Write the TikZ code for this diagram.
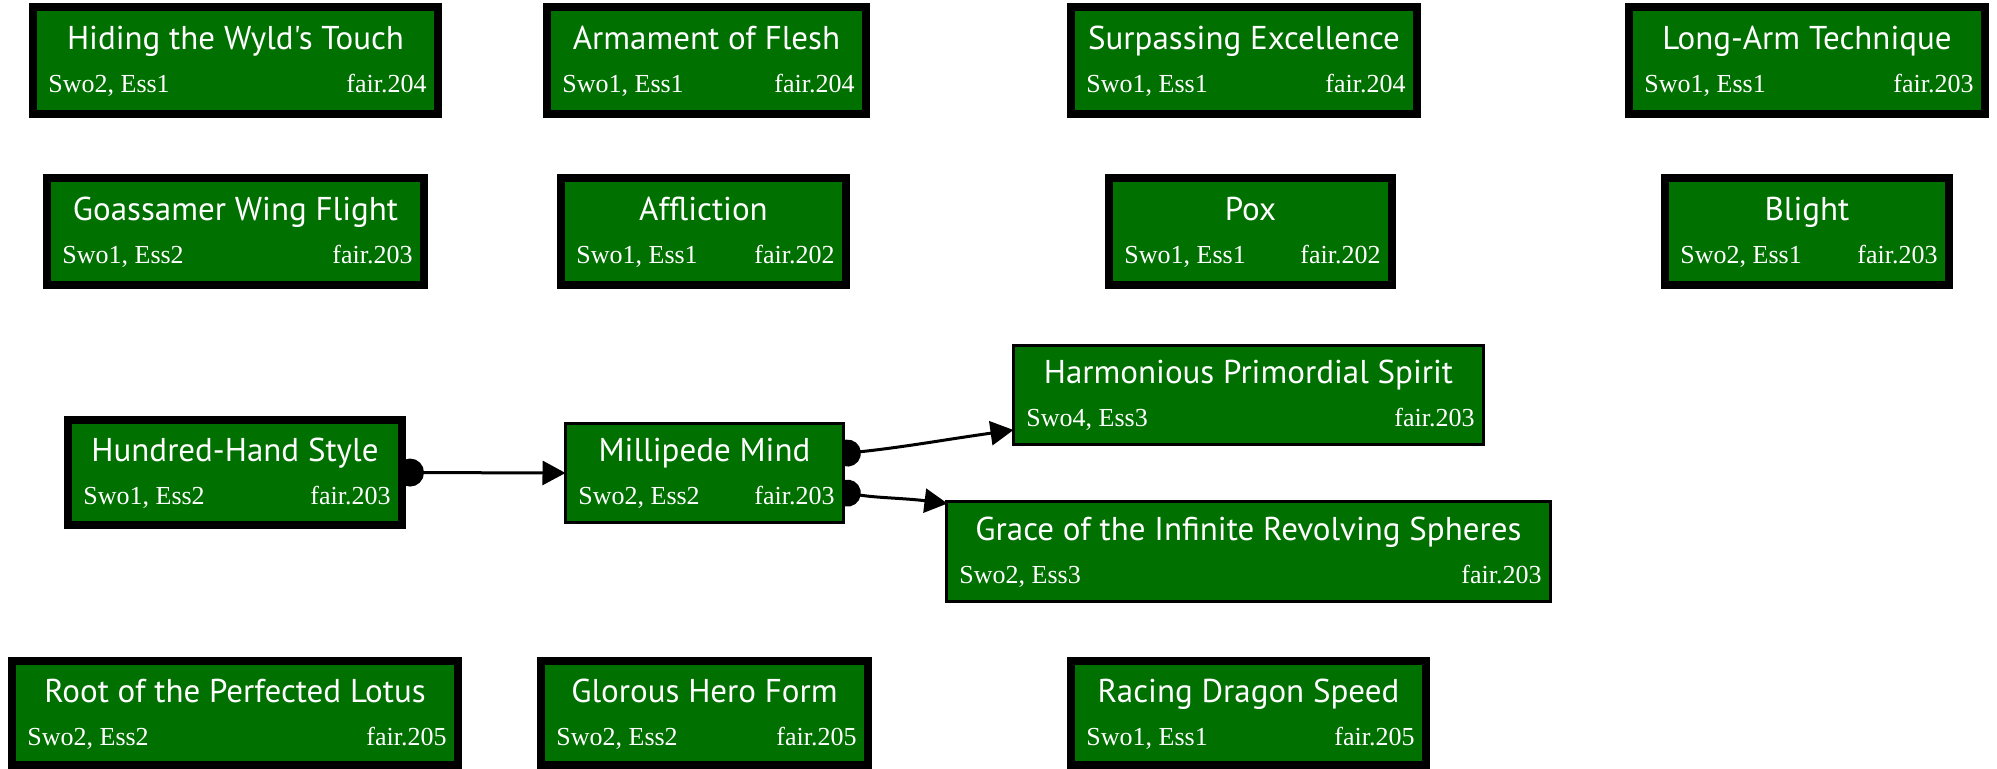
\documentclass[tikz,border=0pt]{standalone}
\usepackage{fontspec}
\setmainfont{Liberation Serif}
\newfontfamily\titlefont{PT Sans}
\usetikzlibrary{arrows.meta,backgrounds}

\definecolor{charmgreen}{RGB}{0,112,0}

\tikzset{
  charmbox/.style={draw=black, fill=charmgreen, inner sep=0pt, outer sep=0pt},
  charmtitle/.style={inner sep=0pt, text=white, font=\titlefont\fontsize{16.5pt}{18pt}\selectfont},
  charmsub/.style={inner sep=0pt, text=white, font=\fontsize{13pt}{15pt}\selectfont},
  edge/.style={draw=black, line width=1.5pt}
}

% \charm{name}{border px}{x1}{y1}{x2}{y2}{title}{left}{right}
% x1..y2 give the outer edges of the box, in pixels (1px = 0.5pt, y downward)
\newcommand\charm[9]{%
  \node[charmbox, line width={#2*0.5pt},
        minimum width={(#5-#3-#2)*0.5pt}, minimum height={(#6-#4-#2)*0.5pt}]
    (#1) at ({(#3+#5)/2},{(#4+#6)/2}) {};
  \node[charmtitle, anchor=base] (#1-t) at ({(#3+#5)/2},{(#4+#6)/2-11}) {#7};
  \node[charmsub, anchor=base west] (#1-l) at ({#3+#2+11},{(#4+#6)/2+32}) {#8};
  \node[charmsub, anchor=base east] (#1-r) at ({#5-#2-7},{(#4+#6)/2+32}) {#9};
}

\begin{document}
\begin{tikzpicture}[x=0.5pt, y=-0.5pt]
  \useasboundingbox (0,0) rectangle (1997,769);

  % top row
  \charm{hid}{8}{29}{3}{442}{118}{Hiding the Wyld's Touch}{Swo2, Ess1}{fair.204}
  \charm{arm}{8}{543}{3}{870}{118}{Armament of Flesh}{Swo1, Ess1}{fair.204}
  \charm{sur}{8}{1067}{3}{1421}{118}{Surpassing Excellence}{Swo1, Ess1}{fair.204}
  \charm{lon}{8}{1625}{3}{1989}{118}{Long-Arm Technique}{Swo1, Ess1}{fair.203}

  % second row
  \charm{gos}{8}{43}{174}{428}{289}{Goassamer Wing Flight}{Swo1, Ess2}{fair.203}
  \charm{aff}{8}{557}{174}{850}{289}{Affliction}{Swo1, Ess1}{fair.202}
  \charm{pox}{8}{1105}{174}{1396}{289}{Pox}{Swo1, Ess1}{fair.202}
  \charm{bli}{8}{1661}{174}{1953}{289}{Blight}{Swo2, Ess1}{fair.203}

  % the Hundred-Hand chain
  \charm{hun}{8}{64}{416}{406}{529}{Hundred-Hand Style}{Swo1, Ess2}{fair.203}
  \charm{mil}{3}{564}{422}{845}{524}{Millipede Mind}{Swo2, Ess2}{fair.203}
  \charm{har}{3}{1012}{344}{1485}{446}{Harmonious Primordial Spirit}{Swo4, Ess3}{fair.203}
  \charm{gra}{3}{945}{500}{1552}{603}{Grace of the Infinite Revolving Spheres}{Swo2, Ess3}{fair.203}

  % bottom row
  \charm{roo}{8}{8}{657}{462}{769}{Root of the Perfected Lotus}{Swo2, Ess2}{fair.205}
  \charm{glo}{8}{537}{657}{872}{769}{Glorous Hero Form}{Swo2, Ess2}{fair.205}
  \charm{rac}{8}{1067}{657}{1430}{769}{Racing Dragon Speed}{Swo1, Ess1}{fair.205}

  % white page, then the prerequisite links, both under the boxes
  \begin{pgfonlayer}{background}
    \fill[white] (0,0) rectangle (1997,769);
    \draw[edge, {Circle[length=14pt]}-{Triangle[length=11.5pt,width=12pt]}]
      ([xshift=-3pt]hun.east) -- (mil.west);
    \draw[edge, {Circle[length=13.5pt]}-{Triangle[length=11.5pt,width=12pt]}]
      ([xshift=-4.75pt,yshift=9.25pt]mil.east) to[out=6,in=188] ([yshift=-17.5pt]har.west);
    \draw[edge, {Circle[length=13.5pt]}-{Triangle[length=11.5pt,width=12pt]}]
      ([xshift=-4.75pt,yshift=-9pt]mil.east) to[out=-9,in=173] ([xshift=0.5pt,yshift=-1pt]gra.north west);
  \end{pgfonlayer}
\end{tikzpicture}
\end{document}
